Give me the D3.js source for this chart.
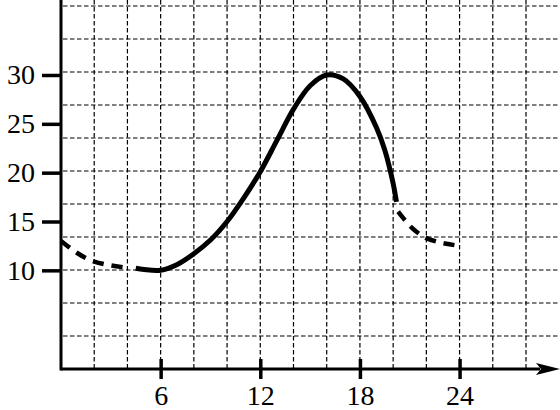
<!DOCTYPE html>
<html>
<head>
<meta charset="utf-8">
<script src="https://cdn.jsdelivr.net/npm/d3@7"></script>
<style>
body { margin: 0; background: #fff; }
svg { display: block; }
</style>
</head>
<body>
<script>
var width = 560;
var height = 410;

var dawnHours = [0, 0.5, 1, 1.5, 2, 3, 4];
var dawnTemps = [13.0, 12.35, 11.75, 11.25, 10.9, 10.5, 10.27];
var dayHours = [4.5, 5, 6, 7, 8, 9, 10, 11, 12, 13, 14, 15, 16, 17, 18, 19, 19.5, 20, 20.2];
var dayTemps = [10.22, 10.08, 10.0, 10.6, 11.7, 13.1, 15.0, 17.4, 20.1, 23.3, 26.5, 28.9, 30.0, 29.6, 27.8, 24.6, 22.3, 18.9, 17.0];
var duskHours = [20.3, 20.7, 21.1, 21.6, 22, 22.7, 23.2, 24];
var duskTemps = [16.0, 15.15, 14.4, 13.7, 13.3, 12.9, 12.72, 12.5];
var xTicks = [6, 12, 18, 24];
var yTicks = [10, 15, 20, 25, 30];
var xGrid = d3.range(2, 30, 2);
var yGrid = d3.range(1, 12);

var x = d3.scaleLinear().domain([0, 28]).range([61, 526]);
var y = d3.scaleLinear().domain([0, 30]).range([368, 75]);
var row = d3.scaleLinear().domain([0, 11]).range([369, 6]);

var svg = d3.select('body').append('svg').attr('width', width).attr('height', height).attr('viewBox', [0, 0, width, height].join(' '));
var x0 = x(0), y0 = row(0), top = row(11);

// dashed grid
var grid = svg.append('g').attr('stroke', '#000').attr('stroke-width', 1.2).attr('stroke-dasharray', '4.5,2.5');
grid.selectAll('.v').data(xGrid).enter().append('line').attr('class', 'v')
  .attr('x1', x).attr('x2', x).attr('y1', top).attr('y2', y0);
grid.selectAll('.h').data(yGrid).enter().append('line').attr('class', 'h')
  .attr('x1', x0 + 2).attr('x2', width).attr('y1', row).attr('y2', row);

// axes with arrows
var axes = svg.append('g');
axes.append('line').attr('x1', x0).attr('x2', width - 20).attr('y1', y0).attr('y2', y0).attr('stroke', '#000').attr('stroke-width', 3);
axes.append('line').attr('x1', x0).attr('x2', x0).attr('y1', y0 + 1.5).attr('y2', top + 20).attr('stroke', '#000').attr('stroke-width', 3);
axes.append('path').attr('fill', '#000')
  .attr('d', 'M' + width + ',' + y0 + 'L' + (width - 24) + ',' + (y0 - 6) + 'L' + (width - 19) + ',' + y0 + 'L' + (width - 24) + ',' + (y0 + 6) + 'Z');
axes.append('path').attr('fill', '#000')
  .attr('d', 'M' + x0 + ',' + top + 'L' + (x0 - 5.5) + ',' + (top + 23) + 'L' + x0 + ',' + (top + 18) + 'L' + (x0 + 5.5) + ',' + (top + 23) + 'Z');

var font = '"Liberation Serif", "Times New Roman", serif';

var yAxis = svg.append('g').attr('transform', 'translate(' + x0 + ',0)')
  .call(d3.axisLeft(y).tickValues(yTicks).tickSize(19).tickPadding(7).tickFormat(d3.format('d')));
var xAxis = svg.append('g').attr('transform', 'translate(0,' + y0 + ')')
  .call(d3.axisBottom(x).tickValues(xTicks).tickSize(10).tickPadding(6).tickFormat(d3.format('d')));
xAxis.selectAll('.tick line').attr('y1', -10);
[xAxis, yAxis].forEach(function(a) {
  a.select('.domain').remove();
  a.selectAll('.tick line').attr('stroke', '#000').attr('stroke-width', 3.5);
  a.selectAll('.tick text').attr('fill', '#000').style('font-family', font).style('font-size', '28px');
});

// temperature curve
var line = d3.line().x(function(d) { return x(d[0]); }).y(function(d) { return y(d[1]); }).curve(d3.curveCatmullRom);
var parts = [
  {pts: d3.zip(dawnHours, dawnTemps), dash: '11,8', w: 4.5},
  {pts: d3.zip(dayHours, dayTemps), dash: null, w: 5},
  {pts: d3.zip(duskHours, duskTemps), dash: '11,8', w: 4.5}
];
svg.selectAll('.curve').data(parts).enter().append('path').attr('class', 'curve')
  .attr('d', function(d) { return line(d.pts); })
  .attr('fill', 'none').attr('stroke', '#000')
  .attr('stroke-width', function(d) { return d.w; })
  .attr('stroke-dasharray', function(d) { return d.dash; });
</script>
</body>
</html>
